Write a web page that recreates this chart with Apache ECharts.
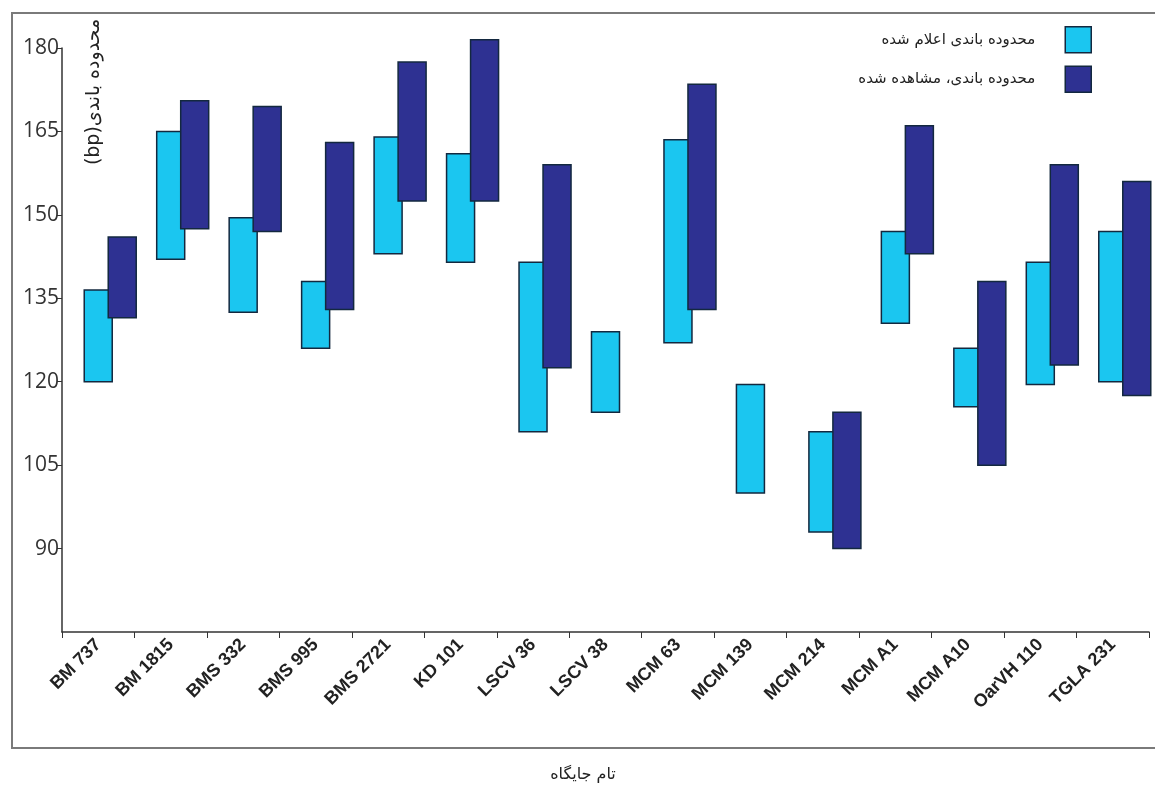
<!DOCTYPE html>
<html>
<head>
<meta charset="utf-8">
<script src="https://cdn.jsdelivr.net/npm/echarts@6/dist/echarts.min.js"></script>
<style>
html,body{margin:0;padding:0;background:#fff;}
#chart{width:1155px;height:796px;}
</style>
</head>
<body>
<div id="chart"></div>
<script>
var categories = ['BM 737','BM 1815','BMS 332','BMS 995','BMS 2721','KD 101','LSCV 36','LSCV 38','MCM 63','MCM 139','MCM 214','MCM A1','MCM A10','OarVH 110','TGLA 231'];
var reportedLow  = [120, 142, 132.5, 126, 143, 141.5, 111, 114.5, 127, 100, 93, 130.5, 115.5, 119.5, 120];
var reportedHigh = [136.5, 165, 149.5, 138, 164, 161, 141.5, 129, 163.5, 119.5, 111, 147, 126, 141.5, 147];
var observedLow  = [131.5, 147.5, 147, 133, 152.5, 152.5, 122.5, null, 133, null, 90, 143, 105, 123, 117.5];
var observedHigh = [146, 170.5, 169.5, 163, 177.5, 181.5, 159, null, 173.5, null, 114.5, 166, 138, 159, 156];
var yTicks = [75, 90, 105, 120, 135, 150, 165, 180];

var nameReported = 'محدوده باندی اعلام شده';
var nameObserved = 'محدوده باندی، مشاهده شده';
var colReported = '#1BC6F0';
var colObserved = '#2E3192';
var colBorder = '#13283f';

function rangeData(lo, hi){
  var out = [];
  for (var i = 0; i < categories.length; i++) {
    if (lo[i] == null || hi[i] == null) continue;
    out.push([i, lo[i], hi[i]]);
  }
  return out;
}

function makeRender(offset, fill){
  return function(params, api){
    var i = api.value(0);
    var p1 = api.coord([i, api.value(1)]);
    var p2 = api.coord([i, api.value(2)]);
    var w = 28;
    return {
      type: 'rect',
      shape: {x: p1[0] - w/2 + offset, y: p2[1], width: w, height: p1[1] - p2[1]},
      style: {fill: fill, stroke: colBorder, lineWidth: 1.5}
    };
  };
}

var chart = echarts.init(document.getElementById('chart'));
chart.setOption({
  animation: false,
  backgroundColor: '#fff',
  grid: {left: 62, right: 6, top: 48, bottom: 164, containLabel: false},
  legend: {
    orient: 'vertical',
    right: 58,
    top: 21,
    align: 'right',
    itemWidth: 26,
    itemHeight: 26,
    itemGap: 12,
    selectedMode: false,
    textStyle: {fontFamily: 'DejaVu Sans', fontSize: 15, color: '#222', padding: [12, 25, 0, 0]},
    data: [
      {name: nameReported, icon: 'rect', itemStyle: {color: colReported, borderColor: colBorder, borderWidth: 1.5}},
      {name: nameObserved, icon: 'rect', itemStyle: {color: colObserved, borderColor: colBorder, borderWidth: 1.5}}
    ]
  },
  xAxis: {
    type: 'category',
    data: categories,
    boundaryGap: true,
    axisLine: {lineStyle: {color: '#333', width: 1.5}},
    axisTick: {show: true, length: 6, alignWithLabel: false, lineStyle: {color: '#333'}},
    axisLabel: {interval: 0, rotate: 45, margin: 10, fontFamily: 'Liberation Sans', fontWeight: 'bold', fontSize: 18, color: '#222'},
    splitLine: {show: false}
  },
  yAxis: {
    type: 'value',
    min: yTicks[0],
    max: yTicks[yTicks.length - 1],
    interval: 15,
    axisLine: {show: true, lineStyle: {color: '#333', width: 1.5}},
    axisTick: {show: true, length: 5, lineStyle: {color: '#333'}},
    axisLabel: {showMinLabel: false, margin: 3, fontFamily: 'Open Sans', fontSize: 21, color: '#333'},
    splitLine: {show: false}
  },
  graphic: [
    {type: 'rect', z: -1, shape: {x: 12, y: 13, width: 1160, height: 735}, style: {fill: 'none', stroke: '#7a7a7a', lineWidth: 2}},
    {type: 'text', x: 94, y: 92, rotation: Math.PI / 2,
     style: {text: '(bp)محدوده باندی', fontFamily: 'DejaVu Sans', fontSize: 19, fill: '#222', align: 'center', verticalAlign: 'middle'}},
    {type: 'text', x: 583, y: 775,
     style: {text: 'تام جایگاه', fontFamily: 'DejaVu Sans', fontSize: 16, fill: '#222', align: 'center', verticalAlign: 'middle'}}
  ],
  series: [
    {
      name: nameReported,
      type: 'custom',
      itemStyle: {color: colReported, borderColor: colBorder},
      encode: {x: 0, y: [1, 2]},
      clip: false,
      renderItem: makeRender(0, colReported),
      data: rangeData(reportedLow, reportedHigh),
      z: 2
    },
    {
      name: nameObserved,
      type: 'custom',
      itemStyle: {color: colObserved, borderColor: colBorder},
      encode: {x: 0, y: [1, 2]},
      clip: false,
      renderItem: makeRender(24, colObserved),
      data: rangeData(observedLow, observedHigh),
      z: 3
    }
  ]
});
</script>
</body>
</html>
